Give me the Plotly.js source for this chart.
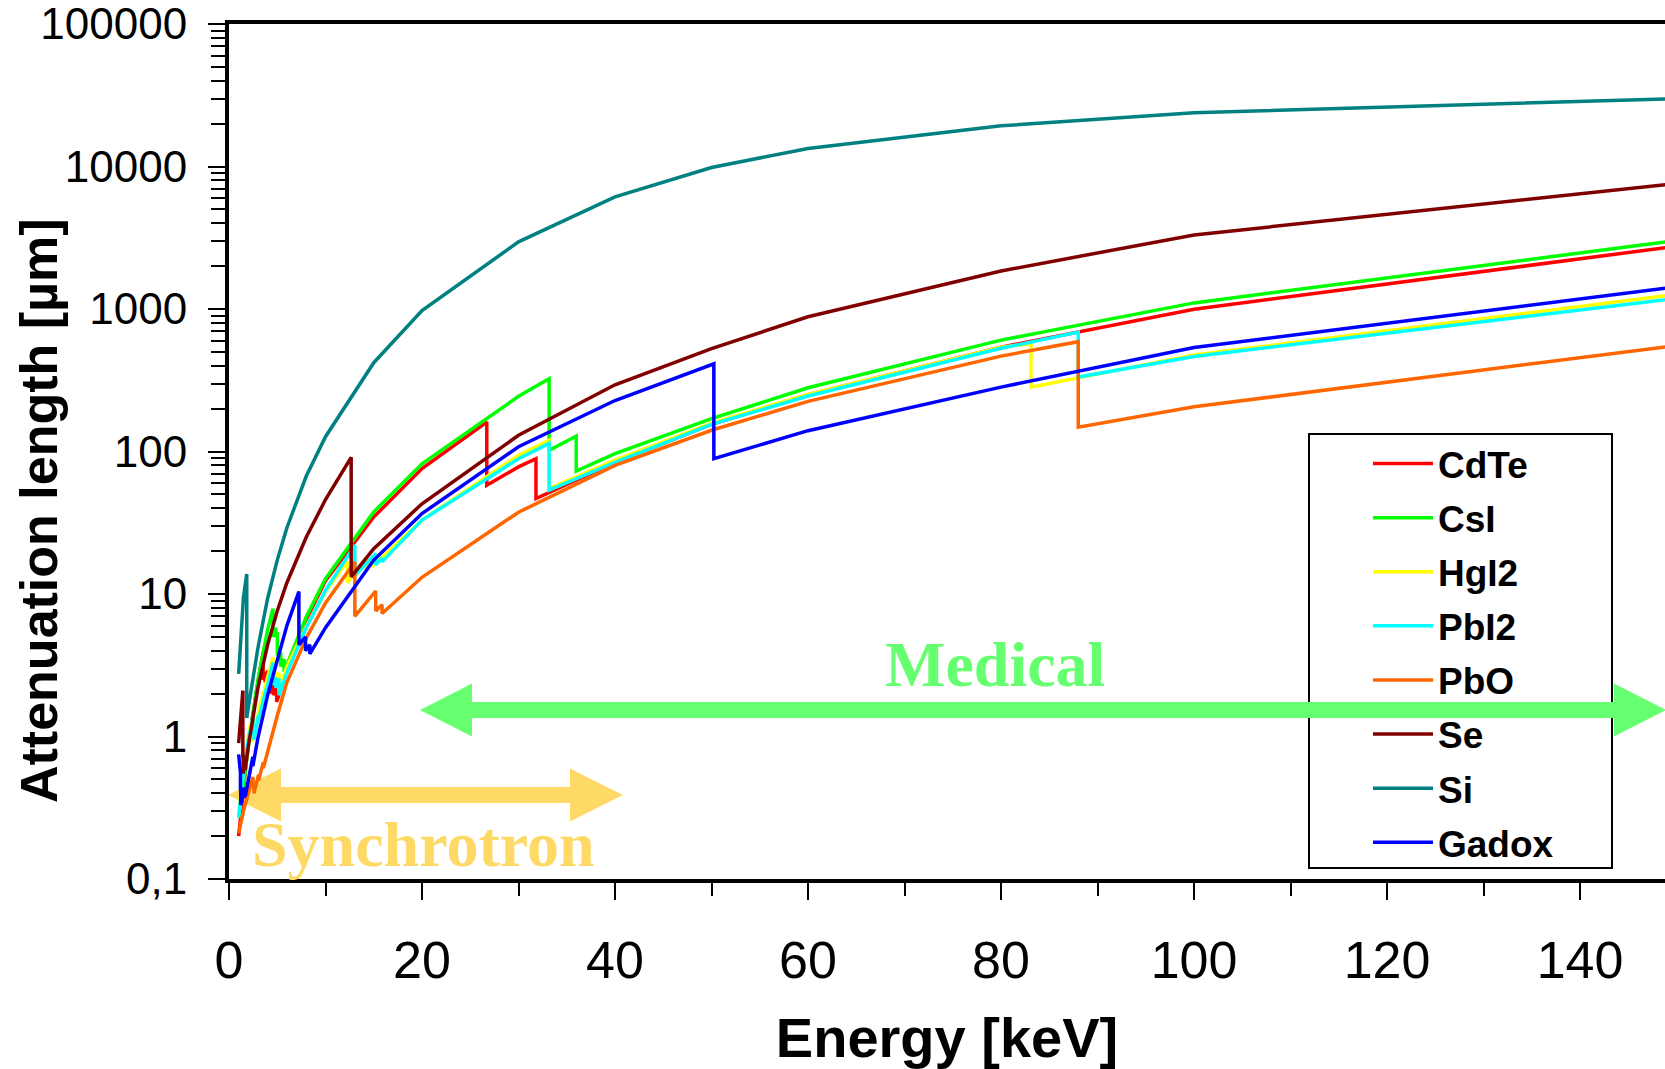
<!DOCTYPE html>
<html>
<head>
<meta charset="utf-8">
<script src="https://cdn.plot.ly/plotly-3.0.1.min.js"></script>
<style>
html,body{margin:0;padding:0;background:#fff;}
#chart{width:1665px;height:1069px;}
</style>
</head>
<body>
<div id="chart"></div>
<script>
// ---------------- DATA ----------------
const seriesNames  = ['CdTe', 'CsI', 'HgI2', 'PbI2', 'PbO', 'Se', 'Si', 'Gadox'];
const seriesColors = ['#FF0000', '#00FF00', '#FFFF00', '#00FFFF', '#FF6600', '#800000', '#008080', '#0000FF'];

// Energy [keV] / attenuation length [µm]
const cdteE = [1,1.5,2,3,3.538,3.538,3.727,3.727,4.018,4.018,4.341,4.341,4.612,4.612,4.939,4.939,5,6,8,10,15,20,26.71,26.71,30,31.81,31.81,40,50,60,80,100,150];
const cdteL = [0.2,0.45,0.9,2.4,3.9,2.5,2.85,2.4,2.9,2.5,3.0,2.0,2.35,1.95,2.3,1.75,1.8,2.9,6.6,12.4,34.7,75.9,161,58,78,89,46.8,84,155,250,540,996,2760];

const csiE = [1,1.5,2,3,4,4.557,4.557,4.852,4.852,5.012,5.012,5.188,5.188,5.359,5.359,5.714,5.714,6,8,10,15,20,30,33.17,33.17,35.98,35.98,40,50,60,80,100,150];
const csiL = [0.27,0.45,0.85,2.5,5.6,7.9,5.0,5.8,5.0,5.4,3.7,4.0,3.6,3.9,3.1,3.5,2.85,3.2,6.9,12.8,37.7,82,244,324,102,128,73,96.6,170,280,605,1104,3030];

const hgi2E = [1,1.5,2,2.295,2.295,2.385,2.385,2.847,2.847,3,3.278,3.278,3.562,3.562,4,4.557,4.557,4.852,4.852,5.188,5.188,6,8,10,12.28,12.28,14.21,14.21,14.84,14.84,15,20,30,33.17,33.17,40,50,60,80,83.1,83.1,100,150];
const hgi2L = [0.28,0.58,1.0,1.3,1.05,1.12,0.92,1.35,1.25,1.42,1.75,1.65,2.05,1.95,2.6,3.6,2.5,2.85,2.4,2.8,2.1,3.1,5.9,10.4,17.0,12.0,18.0,15.0,16.8,15.5,16.0,33,94,120,55,87,158,252,540,571,283,475,1270];

const pbi2E = [1,1.5,2,2.484,2.484,2.586,2.586,3,3.066,3.066,3.554,3.554,3.851,3.851,4,4.557,4.557,4.852,4.852,5.188,5.188,6,8,10,13.04,13.04,15.2,15.2,15.86,15.86,20,30,33.17,33.17,40,50,60,80,88,88,100,150];
const pbi2L = [0.27,0.55,0.95,1.35,1.05,1.15,0.95,1.35,1.42,1.3,1.85,1.75,2.15,2.05,2.3,3.3,2.3,2.6,2.2,2.55,1.95,2.8,5.8,10.6,22,13.5,19.2,16,17.9,16.8,33,89,114,53.5,84,155,245,530,689,333,465,1190];

const pboE = [1,1.5,2,2.484,2.484,2.586,2.586,3,3.066,3.066,3.554,3.554,3.851,3.851,4,5,6,8,10,13.04,13.04,15,15.2,15.2,15.86,15.86,20,30,40,50,60,80,88,88,100,150];
const pboL = [0.21,0.30,0.40,0.52,0.44,0.47,0.40,0.52,0.54,0.49,0.66,0.60,0.72,0.69,0.76,1.40,2.40,4.9,8.65,16.8,6.97,10.1,10.5,7.6,8.4,7.3,13.1,37.5,80,141,225,467,590,148,206,555];

const seE = [1,1.2,1.436,1.436,1.476,1.476,1.654,1.654,2,3,4,5,6,8,10,12.66,12.66,15,20,30,40,50,60,80,100,150];
const seL = [0.9,1.45,2.1,0.7,0.74,0.55,0.7,0.58,0.85,2.2,4.4,7.6,12,25,46,91,13.2,20.8,43,130,294,527,883,1850,3310,7600];

const siE = [1,1.5,1.839,1.839,2,3,4,5,6,8,10,15,20,30,40,50,60,80,100,150];
const siL = [2.75,9.5,13.8,1.35,1.6,4.2,9.3,17.3,29.2,67,127,420,975,2960,6120,9850,13400,19300,23800,30000];

const gadoxE = [1,1.185,1.185,1.217,1.217,1.5,1.544,1.544,1.688,1.688,1.881,1.881,2,2.472,2.472,3,4,5,6,7.243,7.243,7.93,7.93,8.376,8.376,10,15,20,30,40,50.24,50.24,60,80,100,150];
const gadoxL = [0.75,0.56,0.42,0.44,0.33,0.42,0.44,0.37,0.42,0.38,0.45,0.42,0.48,0.72,0.62,0.98,1.95,3.5,6.0,10.4,4.4,5.0,4.0,4.4,3.8,5.8,17.3,36.7,108,228,413,89,140,283,537,1430];

const xTickVals = [0,20,40,60,80,100,120,140];
const xMinorVals = [10,30,50,70,90,110,130];
const yTickVals = [0.1,1,10,100,1000,10000,100000];
const yTickText = ['0,1','1','10','100','1000','10000','100000'];

const xTitle = 'Energy [keV]';
const yTitle = 'Attenuation length [µm]';
const rangeLabels = ['Medical', 'Synchrotron'];

// ---------------- LAYOUT HELPERS ----------------
const W = 1665, H = 1069;
const M = {l: 229, r: 0, t: 24, b: 190};
const plotW = W - M.l - M.r, plotH = H - M.t - M.b;
const pxX = px => (px - M.l) / plotW;
const pxY = py => (H - M.b - py) / plotH;

function doubleArrowPath(xL, xR, yc, headH, headL, shaft) {
  const pts = [
    [xL, yc], [xL + headL, yc - headH / 2], [xL + headL, yc - shaft / 2],
    [xR - headL, yc - shaft / 2], [xR - headL, yc - headH / 2], [xR, yc],
    [xR - headL, yc + headH / 2], [xR - headL, yc + shaft / 2],
    [xL + headL, yc + shaft / 2], [xL + headL, yc + headH / 2]
  ];
  return pts.map((p, i) => (i ? 'L' : 'M') + pxX(p[0]).toFixed(5) + ',' + pxY(p[1]).toFixed(5)).join(' ') + ' Z';
}

const yMinor = [];
for (let d = -1; d < 5; d++) for (let k = 2; k <= 9; k++) yMinor.push(k * Math.pow(10, d));

const xs = [cdteE, csiE, hgi2E, pbi2E, pboE, seE, siE, gadoxE];
const ys = [cdteL, csiL, hgi2L, pbi2L, pboL, seL, siL, gadoxL];

const traces = seriesNames.map((n, i) => ({
  type: 'scatter', mode: 'lines', name: n, x: xs[i], y: ys[i],
  legendgroup: 'g' + i,
  line: {color: seriesColors[i], width: 3.5},
  hoverinfo: 'skip'
}));

const SANS = 'Liberation Sans, Arial, sans-serif';
const SERIF = 'Liberation Serif, Times New Roman, serif';
const GREEN = '#66FF70', GOLD = '#FFD966';

const layout = {
  width: W, height: H,
  margin: M,
  paper_bgcolor: '#ffffff',
  plot_bgcolor: 'rgba(0,0,0,0)',
  showlegend: true,
  xaxis: {
    range: [0, 148.8], tickvals: xTickVals, ticks: 'outside', ticklen: 17, tickwidth: 2, tickcolor: '#000',
    showline: true, linewidth: 4, linecolor: '#000', mirror: true, showgrid: false, zeroline: false,
    tickfont: {family: SANS, size: 52, color: '#000'}, ticklabelstandoff: 16,
    minor: {tickvals: xMinorVals, ticks: 'outside', ticklen: 13, tickwidth: 2, tickcolor: '#000', showgrid: false},
    title: {text: xTitle, font: {family: SANS, size: 56, color: '#000', weight: 700}, standoff: 30}
  },
  yaxis: {
    type: 'log', range: [-1, 5.0002], tickvals: yTickVals, ticktext: yTickText,
    ticks: 'outside', ticklen: 17, tickwidth: 2, tickcolor: '#000',
    showline: true, linewidth: 4, linecolor: '#000', showgrid: false, zeroline: false,
    tickfont: {family: SANS, size: 44, color: '#000'}, ticklabelstandoff: 12, ticklabeloverflow: 'allow',
    minor: {tickvals: yMinor, ticks: 'outside', ticklen: 14, tickwidth: 2, tickcolor: '#000', showgrid: false}
  },
  legend: {
    x: pxX(1368), xanchor: 'left', y: pxY(433), yanchor: 'top',
    bgcolor: 'rgba(0,0,0,0)', borderwidth: 0,
    font: {family: SANS, size: 37, color: '#000', weight: 700},
    tracegroupgap: 3, itemwidth: 60, traceorder: 'grouped'
  },
  shapes: [
    {type: 'rect', xref: 'paper', yref: 'paper', x0: pxX(1309), x1: pxX(1612), y0: pxY(868), y1: pxY(434),
     line: {color: '#000', width: 2}, fillcolor: 'rgba(0,0,0,0)', layer: 'below'},
    {type: 'path', xref: 'paper', yref: 'paper', path: doubleArrowPath(420, 1666, 710, 53, 52, 16),
     fillcolor: GREEN, line: {width: 0}, layer: 'below'},
    {type: 'path', xref: 'paper', yref: 'paper', path: doubleArrowPath(228, 623, 795, 53, 53, 16),
     fillcolor: GOLD, line: {width: 0}, layer: 'below'}
  ],
  annotations: [
    {text: rangeLabels[0], xref: 'paper', yref: 'paper', x: pxX(995), y: pxY(664), xanchor: 'center', yanchor: 'middle',
     showarrow: false, font: {family: SERIF, size: 64, color: GREEN, weight: 700}},
    {text: rangeLabels[1], xref: 'paper', yref: 'paper', x: pxX(423), y: pxY(844), xanchor: 'center', yanchor: 'middle',
     showarrow: false, font: {family: SERIF, size: 64, color: GOLD, weight: 700}},
    {text: yTitle, xref: 'paper', yref: 'paper', x: pxX(39), y: pxY(511), xanchor: 'center', yanchor: 'middle',
     textangle: -90, showarrow: false, font: {family: SANS, size: 52, color: '#000', weight: 700}}
  ]
};

Plotly.newPlot('chart', traces, layout, {displayModeBar: false, staticPlot: true});
</script>
</body>
</html>
